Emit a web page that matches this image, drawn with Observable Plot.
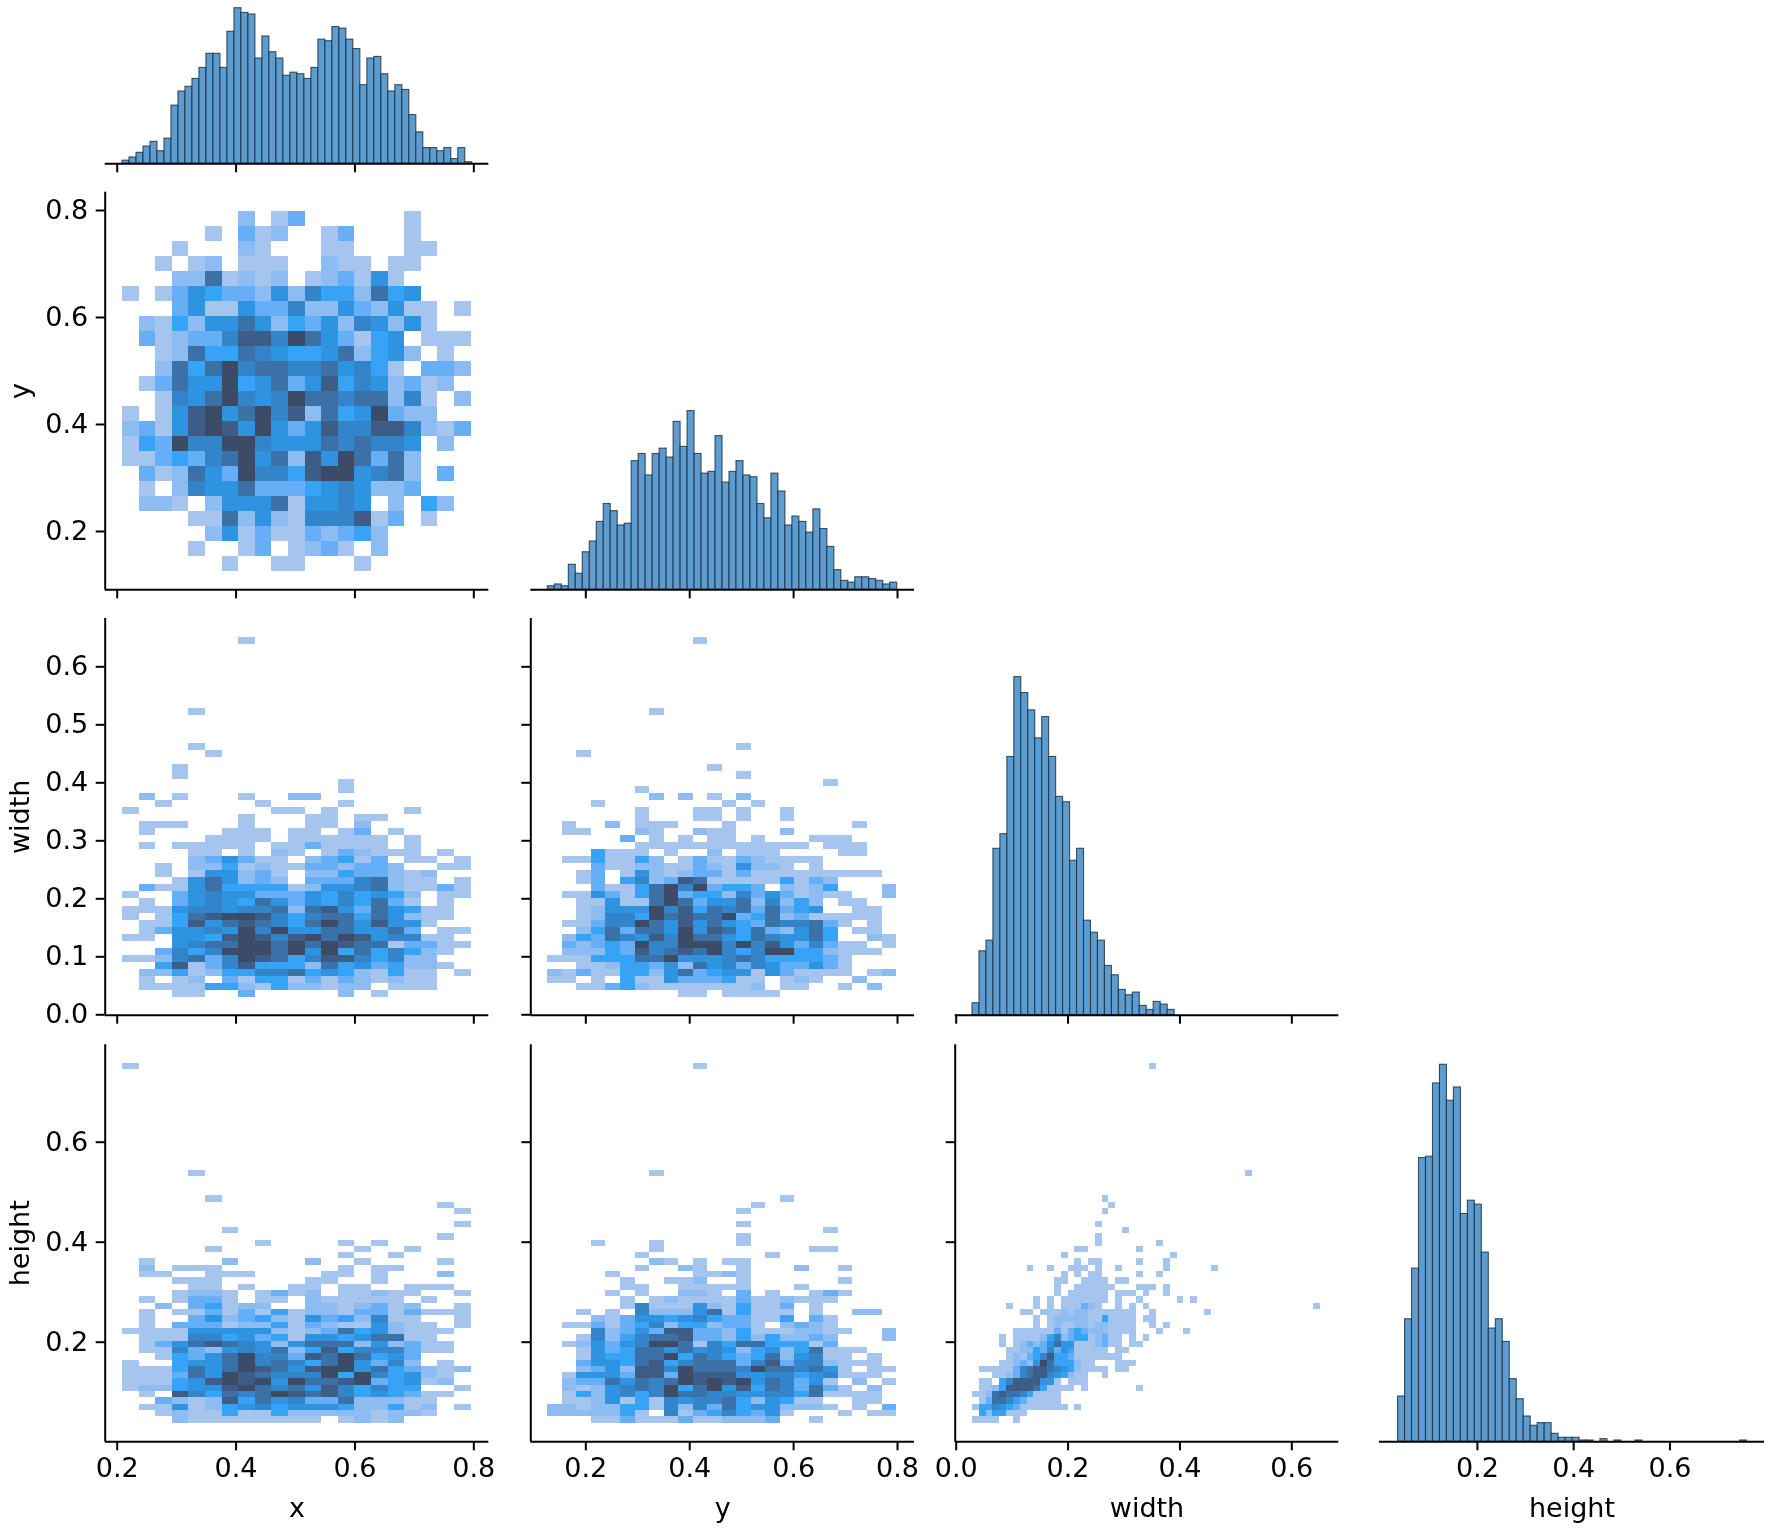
<!DOCTYPE html>
<html>
<head>
<meta charset="utf-8">
<script src="https://cdn.jsdelivr.net/npm/d3@7"></script>
<script src="https://cdn.jsdelivr.net/npm/@observablehq/plot@0.6"></script>
<style>
html,body{margin:0;padding:0;background:#fff}
#fig{position:relative;width:1772px;height:1529px;overflow:hidden;filter:blur(0.5px)}
#fig svg{position:absolute;left:0;top:0}
</style>
</head>
<body>
<div id="fig"></div>
<script>
// Diagonal histograms: estimated counts per bin
const xCounts = [2,4,7,11,14,8,16,37,46,49,54,61,70,70,61,84,99,96,95,67,81,71,67,56,58,57,54,61,79,78,87,86,79,73,50,67,68,57,46,50,47,31,20,10,10,8,10,3,10,1];
const yCounts = [2,3,2,14,9,21,27,38,48,44,36,37,72,76,64,76,79,74,94,80,100,76,65,66,86,60,66,72,64,63,48,40,65,55,36,41,38,32,45,34,24,11,5,4,7,7,6,5,3,4];
const widthCounts = [9,48,56,125,136,194,254,242,229,208,224,194,164,160,116,125,71,62,56,37,30,19,15,17,7,4,10,8,4];
const heightCounts = [34,92,130,213,214,269,283,256,266,171,181,178,142,85,92,75,47,32,19,12,14,14,6,3,3,3,1,1,0,2,0,1,0,0,1,0,0,0,0,0,0,0,0,0,0,0,0,0,0,1];

// Bivariate histograms: density level (0 = empty, 9 = densest), top row first
const yByX = [
"000000020130000001000","000001031200130001000","000100021000110001100","001012011100211011000",
"000227121201231510000","101354332526442745000","000351153362253251101","021425575243526525100",
"031233688697531450111","001274476544572452010","002747967766756410332","013755945735846523120",
"001657965697767726102","101589579682745932200","231589859535866886213","143966996555767665020",
"113436795728597372000","031275396648995672030","010265573334565223000","022102555715565020420",
"000011725216668130100","000002513113234200000","000010013012310200000","000000100110001000000"];

const widthByX = [
"000000010000000000000","","","","","","","","","",
"000010000000000000000","","","","",
"000010000000000000000","000001000000000000000","",
"000100000000000000000","000100000000000000000",
"000000000000010000000","000000000000010000000",
"020100010022000000000","001000001000010000000","100000000110100001000","000000010001101100000",
"011100010001102000000","010000111011013010000","000001111011111101000","010111110113111101000",
"000011010210132111010","000023531102341301101","001022412113323320011","001015523102243321200",
"000157523203336721101","031157444412556721131","100356553335464542011","010356547535464731010",
"111566566727853754110","101478998646774752110","011485787647975855100","013556596955775573011",
"110554898689798566110","000567799797987713311","003646999795947464210","112673698746886462200",
"004813684442745342210","022412446674542141101","010120314413132121100","011114421422122011100",
"000110030000020100000"];

const widthByY = [
"000000000010000000000000","","","","","","","","","",
"000000010000000000000000","","","","",
"000000000000010000000000","001000000000000000000000","",
"000000000001000000000000","000000000000010000000000",
"000000000000000000010000","000000100000000000000000",
"000000020201020000000000","000100000000101000000000","000000100011010010000000","000000100011010010000000",
"010020111000100000000100","011000210021100020000000","000003010101101000111000","000000111111111111011100",
"000411101002011100001100","011411420131132111100000","000311221132152210100000","001301521233131111111110",
"001304623871111141320000","000311479693443021240002","011531479344263531211002","001151179735572624201100",
"001255596847673734500110","001266497877934723111110","011366975857543766731010","002473775958747325740110",
"024376586977547655740021","032343966999696853631101","022243867879646994421110","111444779555676444431000",
"001124435275636533531000","213114425734551531111012","110104115333411012100200","001134211111112011001020",
"000000000110111100000000"];

const heightByX = [
"100000000000000000000","","","","","","","","","","","","","","","","",
"000010000000000000000","","","",
"000001000000000000000","000000000000000000010","000000000000000000001","",
"000000000000000000001","000000100000000000000","000000000000000000010",
"000000001000010100000","000001000000001001000","000000000000010010000","010000200002001000010",
"020111000000010110000","011001110000110100020","000111000001100100000","000011010011011001110",
"000122101312011211001","010133101102111110100","002034122002212312001","010113131412213313111",
"010035234215342611001","010333122413211521101","111155555212374521110","011166453415545771100",
"013578765257772523110","011632565724846663110","001435796638797453000","100455796764795362010",
"111475798758995743212","111375987666949645210","111458989597789345120","122455897675864644001",
"010864767987864543110","003212847563372221100","011512456455542241201","001211411422222122100",
"000211111111012120000"];

const heightByY = [
"000000000010000000000000","","","","","","","","","","","","","","","","",
"000000010000000000000000","","","",
"000000000000000010000000","000000000000001000000000","000000000000010000000000","",
"000000000000010000000000","000000000000000000010000","000000000000010000000000",
"000100010000010000000000","000000010000000000110000","000000100000000100000000","000000021010110000000000",
"000000100210010002001000","000010000011210000000000","000001001120010000001000","000001100111110001000000",
"000010100221030100131000","000001012111131121110000","000001611152141130100000","001010622257141110100220",
"000213554564331140310000","011313462442331023210000","000623538833241112211002","001624677833242422320002",
"012535699716477444130000","001534775756524524711100","001544779476434725611010","003554784677736836621110",
"002352886977769776751011","015553883988855664561110","023375767989895763510201","021256769479584763731020",
"014256469776655664711110","011251416566742541100110","221224416263745522210103","222224106134643510001011",
"000113111311222300100000"];

const heightByWidth = [
"","","","","","","","","","","","","","","","","","","","","",
"00000000000000000001","000000000000000000001","00000000000000000001","",
"0000000000000000001","00000000000000000000001","0000000000000000001",
"0000000000000000001","0000000000000001100000001","00000000000001","0000000000000001011000001",
"0000000010010011101001","0000000000000101011000001","00000000000011001111011","00000000000010011111100011",
"00000000000010111111011101","0000000001010111111101001","00000100010101113210010101","000000011011121221111111",
"00000000010122222114111101","000000000101211221221111","000000111111313432221111","00001011112462344123110101",
"0000101232357551112311011","00000112243635411111011","0000012134684431111111","000011232597444211000111",
"01111136788765421111011","00011236788654211001","01104688885510111","0112488887411110100000001",
"1127877641111","0137764311111","1446543111111101","04244111","1111001"];
// Isolated far-out cells of heightByWidth: [width bin, height bin]
const heightByWidthExtras = [[26,0],[40,17],[26,39],[26,40],[26,41],[28,41],[27,28],[27,33],[27,42],[26,35],[28,35],[28,36],[30,37],[32,37],[34,39],[31,42],[29,30],[28,31],[28,32],[35,32],[50,38]];

// Bin layouts: first edge and bin width of each variable
const xBins2d = [0.2089, 0.02793];
const yBins2d = [0.1269, 0.02797];
const yRowBins = [0.798, 0.02803];
const widthRowBins = [0.64995, 0.01217];
const heightRowBins = [0.758, 0.01263];
const widthBins2d = [0.02914, 0.012196];
const xHistBins = [0.2089, 0.01177];
const yHistBins = [0.1269, 0.01345];
const widthHistBins = [0.02914, 0.01246];
const heightHistBins = [0.0352, 0.0145];

// Scale domains and ticks
const xDomains = [[0.1798,0.8252],[0.0941,0.8327],[-0.0018,0.684],[-0.0034,0.7964]];
const yDomains = [[0,103.9],[0.091,0.8342],[-0.0007,0.6833],[0.0008,0.7948]];
const histDomains = [[0,103.9],[0,222.5],[0,298],[0,298]];
const xTicks = [[0.2,0.4,0.6,0.8],[0.2,0.4,0.6,0.8],[0,0.2,0.4,0.6],[0.2,0.4,0.6]];
const yTicks = [[],[0.2,0.4,0.6,0.8],[0,0.1,0.2,0.3,0.4,0.5,0.6],[0.2,0.4,0.6]];
const names = ["x","y","width","height"];

// Level colours
const levels = [1,2,3,4,5,6,7,8,9];
const levelColors = ["#a5c5ef","#8cbcf2","#66aff6","#37a3f7","#2e94e2","#3384c8","#3a72a8","#3d5c86","#3c4b66"];

// Panel frame in the figure
const W = 1772, H = 1529;
const colFrames = [[104.7,488.3],[530.3,914],[954.7,1338.3],[1379,1764]];
const rowFrames = [[0,163.3],[191.7,589.3],[618,1014.7],[1044.3,1441.3]];
const font = "'DejaVu Sans', sans-serif";

function cellsFrom(rows, colBins, rowBins, extras = []) {
  const out = [];
  const push = (c, r, level) => out.push({
    x1: colBins[0] + c * colBins[1], x2: colBins[0] + (c + 1) * colBins[1],
    y2: rowBins[0] - r * rowBins[1], y1: rowBins[0] - (r + 1) * rowBins[1], level});
  rows.forEach((row, r) => { for (let c = 0; c < row.length; ++c) if (+row[c] > 0) push(c, r, +row[c]); });
  extras.forEach(([c, r]) => push(c, r, 1));
  return out;
}
function barsFrom(counts, bins) {
  return counts.map((count, i) => ({x1: bins[0] + i * bins[1], x2: bins[0] + (i + 1) * bins[1], count})).filter(d => d.count > 0);
}

function panel(row, col, dataMark) {
  const isBottom = row === 3, isLeft = col === 0, isDiag = row === col;
  const yDomain = isDiag ? histDomains[row] : yDomains[row];
  const marks = [dataMark];
  marks.push(Plot.ruleY([yDomain[0]], {stroke: "#000", strokeWidth: 2}));
  marks.push(Plot.axisX({
    ticks: xTicks[col], tickSize: 9, tickPadding: 7, fontSize: 27, stroke: "#000", strokeWidth: 2, fill: "#000",
    tickFormat: isBottom ? d => d.toFixed(1) : () => "",
    label: isBottom ? names[col] : null, labelAnchor: "center", labelArrow: "none", labelOffset: 75
  }));
  if (!isDiag) {
    marks.push(Plot.ruleX([xDomains[col][0]], {stroke: "#000", strokeWidth: 2}));
    marks.push(Plot.axisY({
      ticks: yTicks[row], tickSize: 9, tickPadding: 8, fontSize: 27, stroke: "#000", strokeWidth: 2, fill: "#000",
      tickFormat: isLeft ? d => d.toFixed(1) : () => "",
      label: isLeft ? names[row] : null, labelAnchor: "center", labelArrow: "none", labelOffset: 95
    }));
  }
  const svg = Plot.plot({
    width: W, height: H,
    marginLeft: colFrames[col][0], marginRight: W - colFrames[col][1],
    marginTop: rowFrames[row][0], marginBottom: H - rowFrames[row][1],
    style: {background: "transparent", fontFamily: font, fontSize: "27px"},
    x: {domain: xDomains[col], axis: null},
    y: {domain: yDomain, axis: null},
    color: {type: "ordinal", domain: levels, range: levelColors},
    marks
  });
  document.getElementById("fig").appendChild(svg);
}

function heat(rows, colBins, rowBins, extras) {
  return Plot.rect(cellsFrom(rows, colBins, rowBins, extras), {
    x1: "x1", x2: "x2", y1: "y1", y2: "y2", fill: "level", shapeRendering: "crispEdges"
  });
}
function hist(counts, bins) {
  return Plot.rect(barsFrom(counts, bins), {
    x1: "x1", x2: "x2", y1: () => 0, y2: "count", fill: "#5c9ccf", stroke: "#1d2b3a", strokeWidth: 1.1, strokeOpacity: 0.8
  });
}

panel(0, 0, hist(xCounts, xHistBins));
panel(1, 0, heat(yByX, xBins2d, yRowBins));
panel(1, 1, hist(yCounts, yHistBins));
panel(2, 0, heat(widthByX, xBins2d, widthRowBins));
panel(2, 1, heat(widthByY, yBins2d, widthRowBins));
panel(2, 2, hist(widthCounts, widthHistBins));
panel(3, 0, heat(heightByX, xBins2d, heightRowBins));
panel(3, 1, heat(heightByY, yBins2d, heightRowBins));
panel(3, 2, heat(heightByWidth, widthBins2d, heightRowBins, heightByWidthExtras));
panel(3, 3, hist(heightCounts, heightHistBins));
</script>
</body>
</html>
